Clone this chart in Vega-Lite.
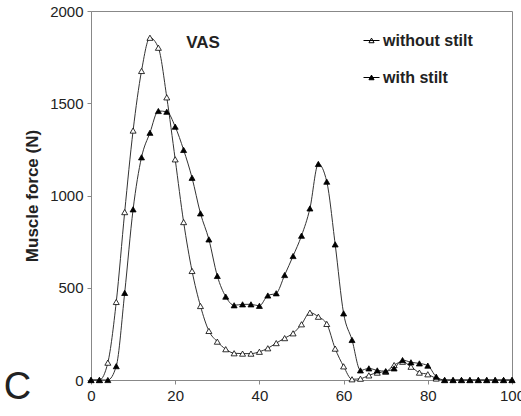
{
  "$schema": "https://vega.github.io/schema/vega-lite/v6.json",
  "width": 421,
  "height": 369,
  "autosize": {"type": "none"},
  "padding": {"left": 91, "top": 11, "right": 9, "bottom": 36},
  "background": "white",
  "config": {
    "font": "Liberation Sans",
    "view": {"stroke": "#888888", "strokeWidth": 1},
    "axis": {
      "grid": false,
      "domainColor": "#888888",
      "tickColor": "#888888",
      "tickSize": 4,
      "labelFont": "Liberation Sans",
      "labelFontSize": 15,
      "labelColor": "#222222",
      "labelPadding": 4,
      "labelFlush": false,
      "labelOverlap": false
    }
  },
  "title": {
    "text": "C",
    "orient": "bottom",
    "anchor": "start",
    "frame": "bounds",
    "font": "Liberation Sans",
    "fontSize": 38,
    "fontWeight": "normal",
    "color": "#222222",
    "baseline": "alphabetic",
    "offset": 0,
    "dx": -20,
    "dy": -4
  },
  "datasets": {
    "force": [
      {"x": 0, "series": "without stilt", "v": 0},
      {"x": 2, "series": "without stilt", "v": 0},
      {"x": 4, "series": "without stilt", "v": 94},
      {"x": 6, "series": "without stilt", "v": 423},
      {"x": 8, "series": "without stilt", "v": 910},
      {"x": 10, "series": "without stilt", "v": 1352},
      {"x": 12, "series": "without stilt", "v": 1675},
      {"x": 14, "series": "without stilt", "v": 1855},
      {"x": 16, "series": "without stilt", "v": 1801},
      {"x": 18, "series": "without stilt", "v": 1532},
      {"x": 20, "series": "without stilt", "v": 1196},
      {"x": 22, "series": "without stilt", "v": 856},
      {"x": 24, "series": "without stilt", "v": 591},
      {"x": 26, "series": "without stilt", "v": 401},
      {"x": 28, "series": "without stilt", "v": 266},
      {"x": 30, "series": "without stilt", "v": 208},
      {"x": 32, "series": "without stilt", "v": 167},
      {"x": 34, "series": "without stilt", "v": 145},
      {"x": 36, "series": "without stilt", "v": 143},
      {"x": 38, "series": "without stilt", "v": 143},
      {"x": 40, "series": "without stilt", "v": 153},
      {"x": 42, "series": "without stilt", "v": 172},
      {"x": 44, "series": "without stilt", "v": 200},
      {"x": 46, "series": "without stilt", "v": 227},
      {"x": 48, "series": "without stilt", "v": 253},
      {"x": 50, "series": "without stilt", "v": 302},
      {"x": 52, "series": "without stilt", "v": 365},
      {"x": 54, "series": "without stilt", "v": 343},
      {"x": 56, "series": "without stilt", "v": 304},
      {"x": 58, "series": "without stilt", "v": 170},
      {"x": 60, "series": "without stilt", "v": 74},
      {"x": 62, "series": "without stilt", "v": 4},
      {"x": 64, "series": "without stilt", "v": 7},
      {"x": 66, "series": "without stilt", "v": 25},
      {"x": 68, "series": "without stilt", "v": 40},
      {"x": 70, "series": "without stilt", "v": 45},
      {"x": 72, "series": "without stilt", "v": 81},
      {"x": 74, "series": "without stilt", "v": 99},
      {"x": 76, "series": "without stilt", "v": 72},
      {"x": 78, "series": "without stilt", "v": 40},
      {"x": 80, "series": "without stilt", "v": 31},
      {"x": 82, "series": "without stilt", "v": 8},
      {"x": 84, "series": "without stilt", "v": 0},
      {"x": 86, "series": "without stilt", "v": 0},
      {"x": 88, "series": "without stilt", "v": 0},
      {"x": 90, "series": "without stilt", "v": 0},
      {"x": 92, "series": "without stilt", "v": 0},
      {"x": 94, "series": "without stilt", "v": 0},
      {"x": 96, "series": "without stilt", "v": 0},
      {"x": 98, "series": "without stilt", "v": 0},
      {"x": 100, "series": "without stilt", "v": 0},
      {"x": 0, "series": "with stilt", "v": 0},
      {"x": 2, "series": "with stilt", "v": 0},
      {"x": 4, "series": "with stilt", "v": 0},
      {"x": 6, "series": "with stilt", "v": 75},
      {"x": 8, "series": "with stilt", "v": 472},
      {"x": 10, "series": "with stilt", "v": 925},
      {"x": 12, "series": "with stilt", "v": 1207},
      {"x": 14, "series": "with stilt", "v": 1340},
      {"x": 16, "series": "with stilt", "v": 1458},
      {"x": 18, "series": "with stilt", "v": 1454},
      {"x": 20, "series": "with stilt", "v": 1373},
      {"x": 22, "series": "with stilt", "v": 1247},
      {"x": 24, "series": "with stilt", "v": 1096},
      {"x": 26, "series": "with stilt", "v": 903},
      {"x": 28, "series": "with stilt", "v": 762},
      {"x": 30, "series": "with stilt", "v": 564},
      {"x": 32, "series": "with stilt", "v": 452},
      {"x": 34, "series": "with stilt", "v": 405},
      {"x": 36, "series": "with stilt", "v": 410},
      {"x": 38, "series": "with stilt", "v": 410},
      {"x": 40, "series": "with stilt", "v": 402},
      {"x": 42, "series": "with stilt", "v": 458},
      {"x": 44, "series": "with stilt", "v": 470},
      {"x": 46, "series": "with stilt", "v": 569},
      {"x": 48, "series": "with stilt", "v": 672},
      {"x": 50, "series": "with stilt", "v": 782},
      {"x": 52, "series": "with stilt", "v": 930},
      {"x": 54, "series": "with stilt", "v": 1171},
      {"x": 56, "series": "with stilt", "v": 1075},
      {"x": 58, "series": "with stilt", "v": 735},
      {"x": 60, "series": "with stilt", "v": 361},
      {"x": 62, "series": "with stilt", "v": 217},
      {"x": 64, "series": "with stilt", "v": 52},
      {"x": 66, "series": "with stilt", "v": 63},
      {"x": 68, "series": "with stilt", "v": 52},
      {"x": 70, "series": "with stilt", "v": 48},
      {"x": 72, "series": "with stilt", "v": 63},
      {"x": 74, "series": "with stilt", "v": 108},
      {"x": 76, "series": "with stilt", "v": 96},
      {"x": 78, "series": "with stilt", "v": 90},
      {"x": 80, "series": "with stilt", "v": 78},
      {"x": 82, "series": "with stilt", "v": 18},
      {"x": 84, "series": "with stilt", "v": 0},
      {"x": 86, "series": "with stilt", "v": 0},
      {"x": 88, "series": "with stilt", "v": 0},
      {"x": 90, "series": "with stilt", "v": 0},
      {"x": 92, "series": "with stilt", "v": 0},
      {"x": 94, "series": "with stilt", "v": 0},
      {"x": 96, "series": "with stilt", "v": 0},
      {"x": 98, "series": "with stilt", "v": 0},
      {"x": 100, "series": "with stilt", "v": 0}
    ],
    "label": [
      {"x": 26.6, "v": 1827, "text": "VAS"}
    ]
  },
  "layer": [
    {
      "data": {"name": "force"},
      "mark": {"type": "line", "interpolate": "monotone", "stroke": "#333333", "strokeWidth": 1},
      "encoding": {
        "x": {
          "field": "x",
          "type": "quantitative",
          "scale": {"domain": [0, 100], "nice": false},
          "axis": {"values": [0, 20, 40, 60, 80, 100], "format": "d", "title": null}
        },
        "y": {
          "field": "v",
          "type": "quantitative",
          "scale": {"domain": [0, 2000], "nice": false},
          "axis": {
            "values": [0, 500, 1000, 1500, 2000],
            "format": "d",
            "title": "Muscle force (N)",
            "titleFont": "Liberation Sans",
            "titleFontSize": 17,
            "titleFontWeight": "bold",
            "titleColor": "#222222",
            "titlePadding": 8
          }
        },
        "detail": {"field": "series", "type": "nominal"}
      }
    },
    {
      "data": {"name": "force"},
      "mark": {"type": "point", "shape": "triangle-up", "size": 36, "stroke": "#000000", "strokeWidth": 0.8, "opacity": 1, "filled": true},
      "encoding": {
        "x": {"field": "x", "type": "quantitative"},
        "y": {"field": "v", "type": "quantitative"},
        "order": {"field": "series", "sort": "descending"},
        "fill": {
          "field": "series",
          "type": "nominal",
          "scale": {"domain": ["without stilt", "with stilt"], "range": ["#ffffff", "#000000"]},
          "legend": {
            "title": null,
            "orient": "none",
            "legendX": 272,
            "legendY": 21,
            "symbolType": "M-1,0H1M-0.32,0.28L0,-0.3L0.32,0.28Z",
            "symbolSize": 256,
            "symbolStrokeColor": "#000000",
            "symbolStrokeWidth": 1,
            "labelFont": "Liberation Sans",
            "labelFontSize": 16,
            "labelFontWeight": "bold",
            "labelColor": "#222222",
            "labelOffset": 3,
            "rowPadding": 20
          }
        }
      }
    },
    {
      "data": {"name": "label"},
      "mark": {"type": "text", "font": "Liberation Sans", "fontSize": 17, "fontWeight": "bold", "color": "#222222", "align": "center", "baseline": "middle"},
      "encoding": {
        "x": {"field": "x", "type": "quantitative"},
        "y": {"field": "v", "type": "quantitative"},
        "text": {"field": "text"}
      }
    }
  ]
}
